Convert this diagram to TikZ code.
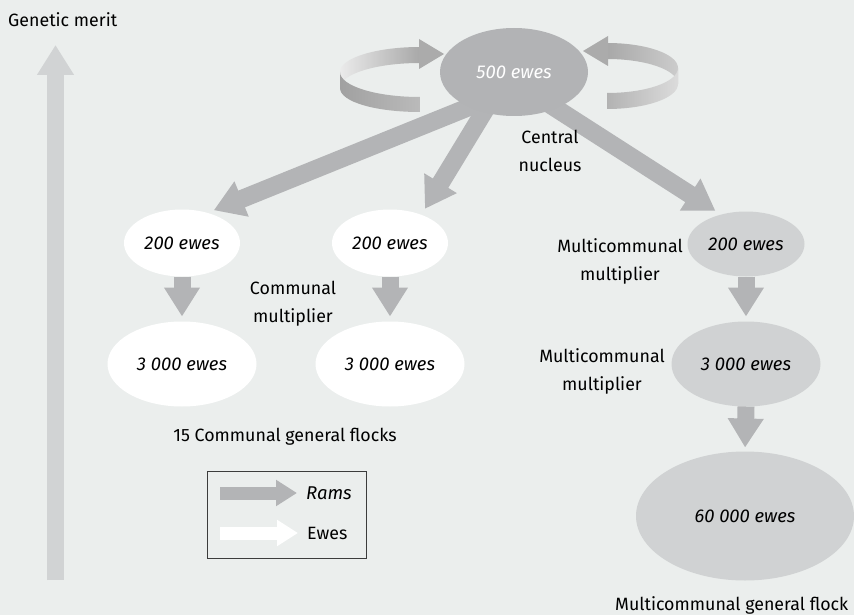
\documentclass[tikz,border=0pt]{standalone}
\usepackage{fontspec}
\setmainfont{Fira Sans}
\usetikzlibrary{arrows.meta,shapes.geometric,backgrounds}

\definecolor{bggray}{RGB}{235,238,237}
\definecolor{nucgray}{RGB}{178,179,181}
\definecolor{ramgray}{RGB}{179,180,182}
\definecolor{lightflock}{RGB}{208,210,211}
\definecolor{meritgray}{RGB}{209,211,212}
\definecolor{legendline}{RGB}{60,60,60}

\tikzset{
  flock/.style={ellipse, inner sep=0pt, outer sep=0pt,
    font=\fontsize{18.5}{28}\selectfont\itshape},
  smallflock/.style={flock, minimum width=116pt, minimum height=67pt},
  bigflock/.style={flock, minimum width=149pt, minimum height=85pt},
  label/.style={align=center, inner sep=0pt},
  ramarrow/.style={draw=ramgray, line width=18pt, -{Triangle[width=36pt,length=30pt]}},
  downarrow/.style={draw=ramgray, line width=17pt, -{Triangle[width=34pt,length=29pt]}},
  meritarrow/.style={draw=meritgray, line width=17pt, -{Triangle[width=35pt,length=30pt]}},
  legarrow/.style={line width=13pt, -{Triangle[width=25pt,length=21pt]}, shorten >=9pt}
}

\begin{document}
\begin{tikzpicture}[x=1pt,y=-1pt,font=\fontsize{17.8}{28}\selectfont]
\clip (0,0) rectangle (854,615);
\begin{scope}[on background layer]
  \fill[bggray] (0,0) rectangle (854,615);
\end{scope}

% genetic merit axis
\node[anchor=west, inner sep=0pt] (merit) at (8,20) {Genetic merit};
\coordinate (meritbot) at (55.5,580);
\coordinate (merittop) at (55.5,45);
\draw[meritarrow] (meritbot) -- (merittop);

% turning arrows round the nucleus
\shade[left color=black!8, right color=black!34] (420,47) .. controls (376,47) and (340,58) .. (340,72)
  -- (340,88) .. controls (340,74) and (376,63) .. (420,63) -- cycle;
\shade[left color=black!37, right color=black!27] (340,72) .. controls (340,86) and (376,97) .. (420,97)
  -- (420,112) .. controls (376,112) and (340,102) .. (340,88) -- cycle;
\fill[black!33] (419,39) -- (444,54) -- (419,69) -- cycle;

\shade[left color=black!34, right color=black!20] (607,43) .. controls (646,43) and (678,54) .. (678,68)
  -- (678,84) .. controls (678,70) and (646,59) .. (607,59) -- cycle;
\shade[left color=black!30, right color=black!14] (678,68) .. controls (678,82) and (646,93) .. (607,93)
  -- (607,109) .. controls (646,109) and (678,98) .. (678,84) -- cycle;
\fill[black!33] (608,36) -- (583,51) -- (608,66) -- cycle;

% flocks
\node[flock, fill=nucgray, text=white, minimum width=148pt, minimum height=88pt] (nuc) at (514,72) {500 ewes};
\node[smallflock, fill=white] (cm1) at (182,243) {200 ewes};
\node[smallflock, fill=white] (cm2) at (390,243) {200 ewes};
\node[bigflock, fill=white] (cg1) at (182,364) {3 000 ewes};
\node[bigflock, fill=white] (cg2) at (390,364) {3 000 ewes};
\node[smallflock, fill=lightflock, minimum width=117pt, minimum height=65pt] (mm1) at (746,244) {200 ewes};
\node[bigflock, fill=lightflock] (mm2) at (746,364) {3 000 ewes};
\node[flock, fill=lightflock, minimum width=218pt, minimum height=129pt] (mgf) at (745,516) {60 000 ewes};

% rams leaving the nucleus
\begin{scope}[on background layer]
  \draw[ramarrow, shorten <=-14pt, shorten >=7pt] (nuc.218) -- (cm1.50);
  \draw[ramarrow, shorten <=-14pt, shorten >=7pt] (nuc.233) -- (cm2.42);
  \draw[ramarrow, shorten <=-14pt, shorten >=7pt] (nuc.319) -- (mm1.130);
\end{scope}
\draw[downarrow, shorten >=5pt] (cm1.south) -- (cg1.north);
\draw[downarrow, shorten >=5pt] (cm2.south) -- (cg2.north);
\draw[downarrow, shorten >=5pt] (mm1.south) -- (mm2.north);
\draw[downarrow, shorten >=4pt] (mm2.south) -- (mgf.north);

% labels
\node[label] (nuclbl) at (550,151) {Central\\nucleus};
\node[label] (comlbl) at (293,304) {Communal\\multiplier};
\node[label] (mmlbl1) at (620,261) {Multicommunal\\multiplier};
\node[label] (mmlbl2) at (602,371) {Multicommunal\\multiplier};
\node[label] (cgflocks) at (285,437) {15 Communal general flocks};
\node[anchor=west, inner sep=0pt] (mgflbl) at (615,605) {Multicommunal general flock};

% legend
\node[draw=legendline, line width=1pt, minimum width=159pt, minimum height=87pt, inner sep=0pt] (legend) at (286.5,514.5) {};
\node[anchor=west, inner sep=0pt, font=\fontsize{18.5}{28}\selectfont\itshape] (ramlbl) at (306,493) {Rams};
\node[anchor=west, inner sep=0pt] (ewelbl) at (307,533) {Ewes};
\coordinate (ramstart) at (220,493);
\coordinate (ewestart) at (220,533);
\draw[legarrow, draw=ramgray] (ramstart) -- (ramlbl.west);
\draw[legarrow, draw=white] (ewestart) -- (ewelbl.west);
\end{tikzpicture}
\end{document}
